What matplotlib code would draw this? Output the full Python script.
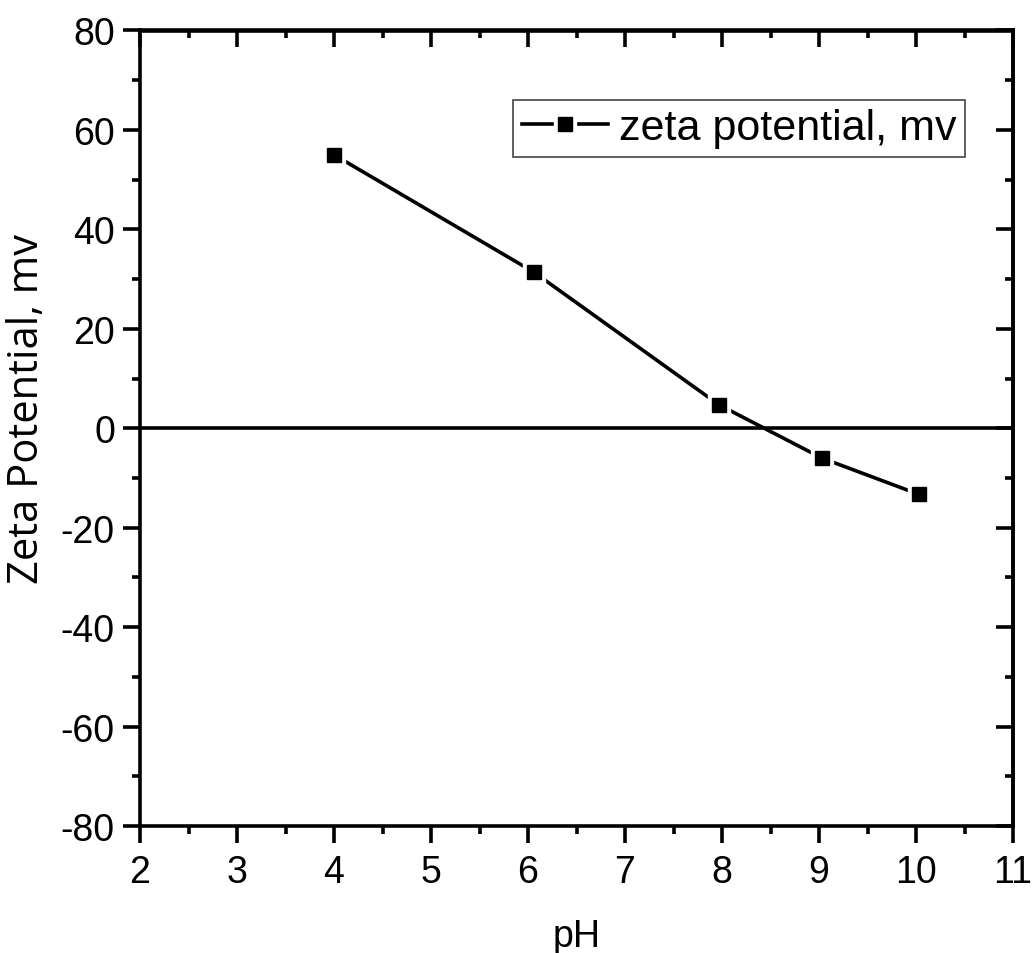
import matplotlib
matplotlib.use("Agg")
import matplotlib.pyplot as plt
from matplotlib.ticker import MultipleLocator

# Zeta potential measured at each pH
ph = [4.0, 6.06, 7.97, 9.03, 10.03]
zeta = [55.0, 31.4, 4.7, -6.0, -13.3]

x_ticks = [2, 3, 4, 5, 6, 7, 8, 9, 10, 11]
y_ticks = [-80, -60, -40, -20, 0, 20, 40, 60, 80]

plt.rcParams["font.family"] = ["Liberation Sans", "DejaVu Sans"]
plt.rcParams["axes.unicode_minus"] = False

fig = plt.figure(figsize=(10.32, 9.54), dpi=100)
ax = fig.add_axes([140 / 1032, 1 - 827 / 954, 873 / 1032, 795.5 / 954])

lw = 2.6
ax.axhline(0, color="black", lw=lw, zorder=3)
line, = ax.plot(ph, zeta, color="black", lw=lw, zorder=2)
halo, = ax.plot(ph, zeta, ls="none", marker="s", ms=16, mfc="white",
                mec="white", zorder=2.5)
pts, = ax.plot(ph, zeta, ls="none", marker="s", ms=10.5, mfc="black",
               mec="black", zorder=4)

ax.set_xlim(2, 11)
ax.set_ylim(-80, 80)
ax.set_xticks(x_ticks)
ax.set_yticks(y_ticks)
ax.xaxis.set_minor_locator(MultipleLocator(0.5))
ax.yaxis.set_minor_locator(MultipleLocator(10))

for s in ax.spines.values():
    s.set_linewidth(lw)

ax.tick_params(which="both", width=lw, labelsize=27)
ax.tick_params(axis="x", pad=8)
ax.tick_params(axis="y", pad=6)
ax.tick_params(which="major", length=12)
ax.tick_params(which="minor", length=6)
ax.tick_params(which="both", direction="out", top=False, right=False)

# inward ticks on the top and right edges
top = ax.secondary_xaxis("top")
top.set_xticks(x_ticks)
top.xaxis.set_minor_locator(MultipleLocator(0.5))
top.tick_params(which="both", direction="in", width=lw, labeltop=False)
top.tick_params(which="major", length=12)
top.tick_params(which="minor", length=6)
top.spines["top"].set_linewidth(lw)
right = ax.secondary_yaxis("right")
right.set_yticks(y_ticks)
right.yaxis.set_minor_locator(MultipleLocator(10))
right.tick_params(which="both", direction="in", width=lw, labelright=False)
right.tick_params(which="major", length=12)
right.tick_params(which="minor", length=6)
right.spines["right"].set_linewidth(lw)

ax.set_xlabel("pH", fontsize=27, labelpad=20)
fig.text(27 / 1032, 1 - 409 / 954, "Zeta Potential, mv", rotation=90,
         fontsize=30, family="Open Sans", ha="center", va="center")

leg = ax.legend([(line, halo, pts)], ["zeta potential, mv"],
                loc="upper right", bbox_to_anchor=(0.945, 0.913),
                fontsize=31, frameon=True, fancybox=False, framealpha=1,
                edgecolor="#444444", handlelength=2.0, borderpad=0.2,
                handletextpad=0.25, borderaxespad=0)
leg.get_frame().set_linewidth(1.2)

fig.savefig("out.png", dpi=100)
